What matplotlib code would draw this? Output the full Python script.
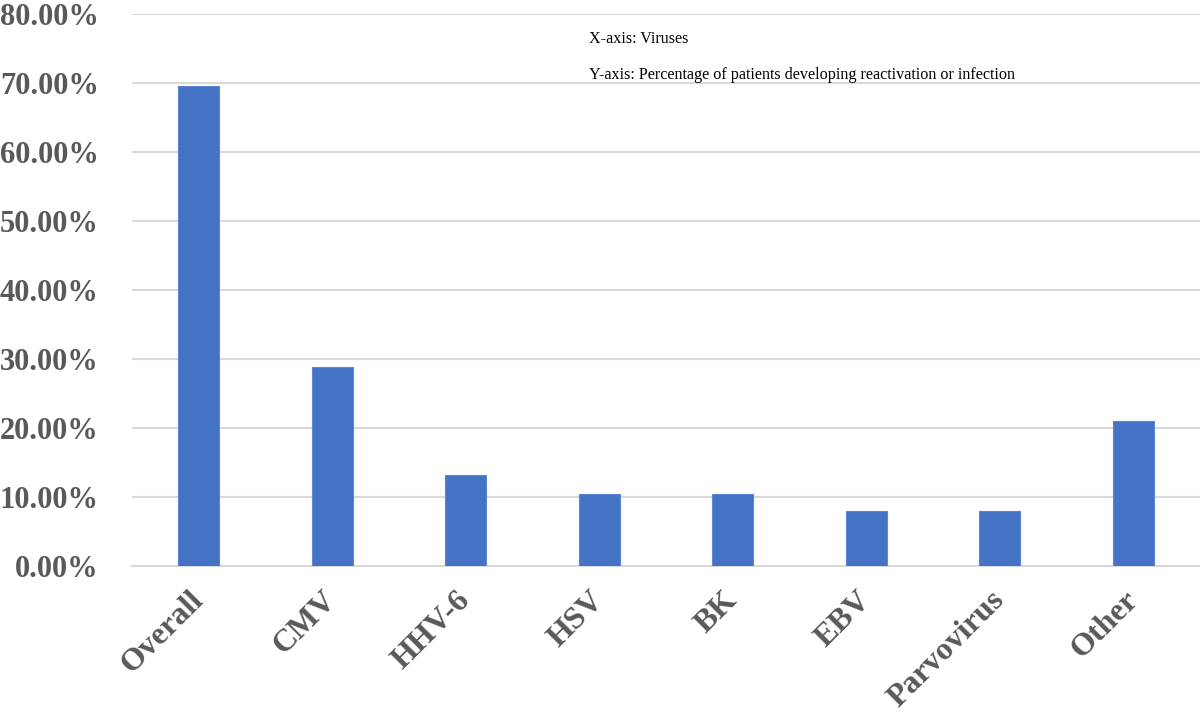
import matplotlib.pyplot as plt
from matplotlib.ticker import FuncFormatter
from matplotlib.transforms import ScaledTranslation
import numpy as np

# values (percent of patients)
viruses = ['Overall', 'CMV', 'HHV-6', 'HSV', 'BK', 'EBV', 'Parvovirus', 'Other']
percents = [69.6, 28.9, 13.2, 10.5, 10.5, 7.9, 7.9, 21.0]
y_ticks = np.arange(0, 81, 10)

plt.rcParams['font.family'] = ['Liberation Serif', 'DejaVu Serif']

fig = plt.figure(figsize=(12, 7.19), dpi=100)
ax = fig.add_axes([0.11, 0.2128, 0.89, 0.7677])

x = np.arange(len(viruses))
ax.bar(x, percents, width=0.31, color='#4472c4', edgecolor='#5b87d6', linewidth=0.8, zorder=3)

ax.set_xlim(-0.5, len(viruses) - 0.5)
ax.set_ylim(0, 80)
ax.set_yticks(y_ticks)
ax.yaxis.set_major_formatter(FuncFormatter(lambda v, p: f'{v:.2f}%'))
ax.grid(axis='y', color='#d9d9d9', linewidth=1.5, zorder=0)
ax.set_axisbelow(True)

for s in ['top', 'right', 'left']:
    ax.spines[s].set_visible(False)
ax.spines['bottom'].set_color('#d9d9d9')
ax.spines['bottom'].set_linewidth(1.5)

ax.tick_params(axis='both', length=0, labelcolor='#595959')
ax.tick_params(axis='y', pad=24)
for lab in ax.get_yticklabels():
    lab.set_fontsize(22)
    lab.set_fontweight('bold')

ax.set_xticks(x)
ax.set_xticklabels(viruses, rotation=45, ha='right', rotation_mode='anchor',
                   fontsize=23, fontweight='bold')
ax.tick_params(axis='x', pad=14)
# nudge rotated labels a little left, like the original
shift = ScaledTranslation(-10 / 100, 0, fig.dpi_scale_trans)
for lab in ax.get_xticklabels():
    lab.set_transform(lab.get_transform() + shift)

ax.text(0.428, 0.955, 'X-axis: Viruses', transform=ax.transAxes,
        fontsize=11.6, color='black', va='center')
ax.text(0.428, 0.89, 'Y-axis: Percentage of patients developing reactivation or infection',
        transform=ax.transAxes, fontsize=11.6, color='black', va='center')

fig.savefig('out.png', dpi=100)
